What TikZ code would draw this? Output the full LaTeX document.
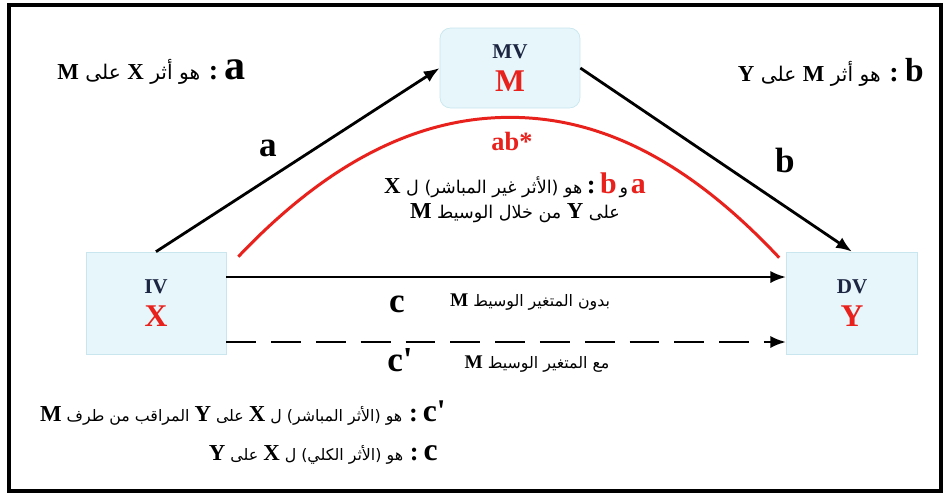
\documentclass[tikz,border=0pt]{standalone}
\usepackage{fontspec}
\setmainfont{Liberation Serif}
\newfontfamily\arabicfont[Script=Arabic]{DejaVu Sans}
\TeXXeTstate=1
\usetikzlibrary{arrows.meta}
\definecolor{boxfill}{HTML}{E6F6FA}
\definecolor{boxline}{HTML}{C9E6EF}
\definecolor{effred}{HTML}{E8211D}
\definecolor{varnavy}{HTML}{1C2541}
% latin letters inside the arabic lines
\newcommand{\lat}[2][13]{{\normalfont\bfseries\fontsize{#1}{#1}\selectfont #2}}
\newcommand{\ar}[2][9]{{\arabicfont\fontsize{#1}{#1}\selectfont\beginR #2\endR}}
\tikzset{
  varbox/.style={draw=boxline, fill=boxfill, minimum width=2.8cm, minimum height=2.04cm, align=center, inner sep=0pt, font=\bfseries\fontsize{12}{14}\selectfont, text=varnavy},
  patharrow/.style={draw=black, -{Latex[length=9pt, width=7pt]}, line width=1.6pt},
  pathlbl/.style={font=\bfseries\fontsize{20}{20}\selectfont},
  legend/.style={inner sep=0pt}
}
\begin{document}
\begin{tikzpicture}[x=0.02cm, y=-0.02cm]
            \useasboundingbox (0,0) rectangle (944,495);
            \draw[line width=2.3pt] (9,5) rectangle (941,491);
            % variables
            \node[varbox, rounded corners=6pt, minimum height=1.6cm] (mv) at (510,68) {MV\\[5pt]{\fontsize{18}{18}\selectfont\color{effred}M}};
            \node[varbox] (iv) at (156,303) {IV\\[5pt]{\fontsize{18}{18}\selectfont\color{effred}X}};
            \node[varbox, minimum width=2.62cm] (dv) at (852,303) {DV\\[5pt]{\fontsize{18}{18}\selectfont\color{effred}Y}};
            \coordinate (top) at ([yshift=-0.18cm]mv.south);
            % paths
            \draw[patharrow] (iv.north) -- (mv.west);
            \draw[patharrow] (mv.east) -- (dv.north);
            \draw[patharrow] ([yshift=0.52cm]iv.east) -- ([yshift=0.52cm]dv.west);
            \draw[patharrow, dash pattern=on 17pt off 8.5pt] ([yshift=-0.78cm]iv.east) -- ([yshift=-0.78cm]dv.west);
            \draw[draw=effred, line width=1.7pt] ([shift={(12,5)}]iv.north east) .. controls +(92,-97) and +(-90,0) .. (top)
                .. controls +(90,0) and +(-92,-98) .. ([shift={(-7,6)}]dv.north west);
            \node[pathlbl] (la) at (268,148) {a};
            \node[pathlbl] (lb) at (785,160) {b};
            \node[pathlbl] (lc) at (397,304) {c};
            \node[pathlbl] (lcp) at (400,360) {c\textquotesingle};
            \node[effred, font=\bfseries\fontsize{15}{15}\selectfont] (lab) at (512,141) {ab*};
            \node[legend] (lnotc) at (530,302) {\ar{بدون المتغير الوسيط \lat[11]{M}}};
            \node[legend] (lwithc) at (537,364) {\ar{مع المتغير الوسيط \lat[11]{M}}};
            % legends
            \node[legend, anchor=east] (lega) at (246,72) {\ar[11.5]{\lat[24]{a} \lat[16]{:} هو أثر \lat{X} على \lat{M}}};
            \node[legend, anchor=east] (legb) at (924,72) {\ar[11.5]{\lat[19]{b} \lat[16]{:} هو أثر \lat{M} على \lat{Y}}};
            \node[legend] (legab) at (515,185) {\ar[10]{هو (الأثر غير المباشر) ل \lat{X}}\ \lat[15]{:}\ \lat[17]{\color{effred}b}\,{\arabicfont\fontsize{10}{10}\selectfont و}\,\lat[17]{\color{effred}a}};
            \node[legend] (legab2) at (515,213) {\ar[10]{على \lat{Y} من خلال الوسيط \lat{M}}};
            \node[legend, anchor=east] (legcp) at (446,413) {\ar{\lat[18]{\beginL c\textquotesingle\endL} \lat[15]{:} هو (الأثر المباشر) ل \lat{X} على \lat{Y} المراقب من طرف \lat{M}}};
            \node[legend, anchor=east] (legc) at (438,455) {\ar{\lat[18]{c} \lat[15]{:} هو (الأثر الكلي) ل \lat{X} على \lat{Y}}};
\end{tikzpicture}
\end{document}
